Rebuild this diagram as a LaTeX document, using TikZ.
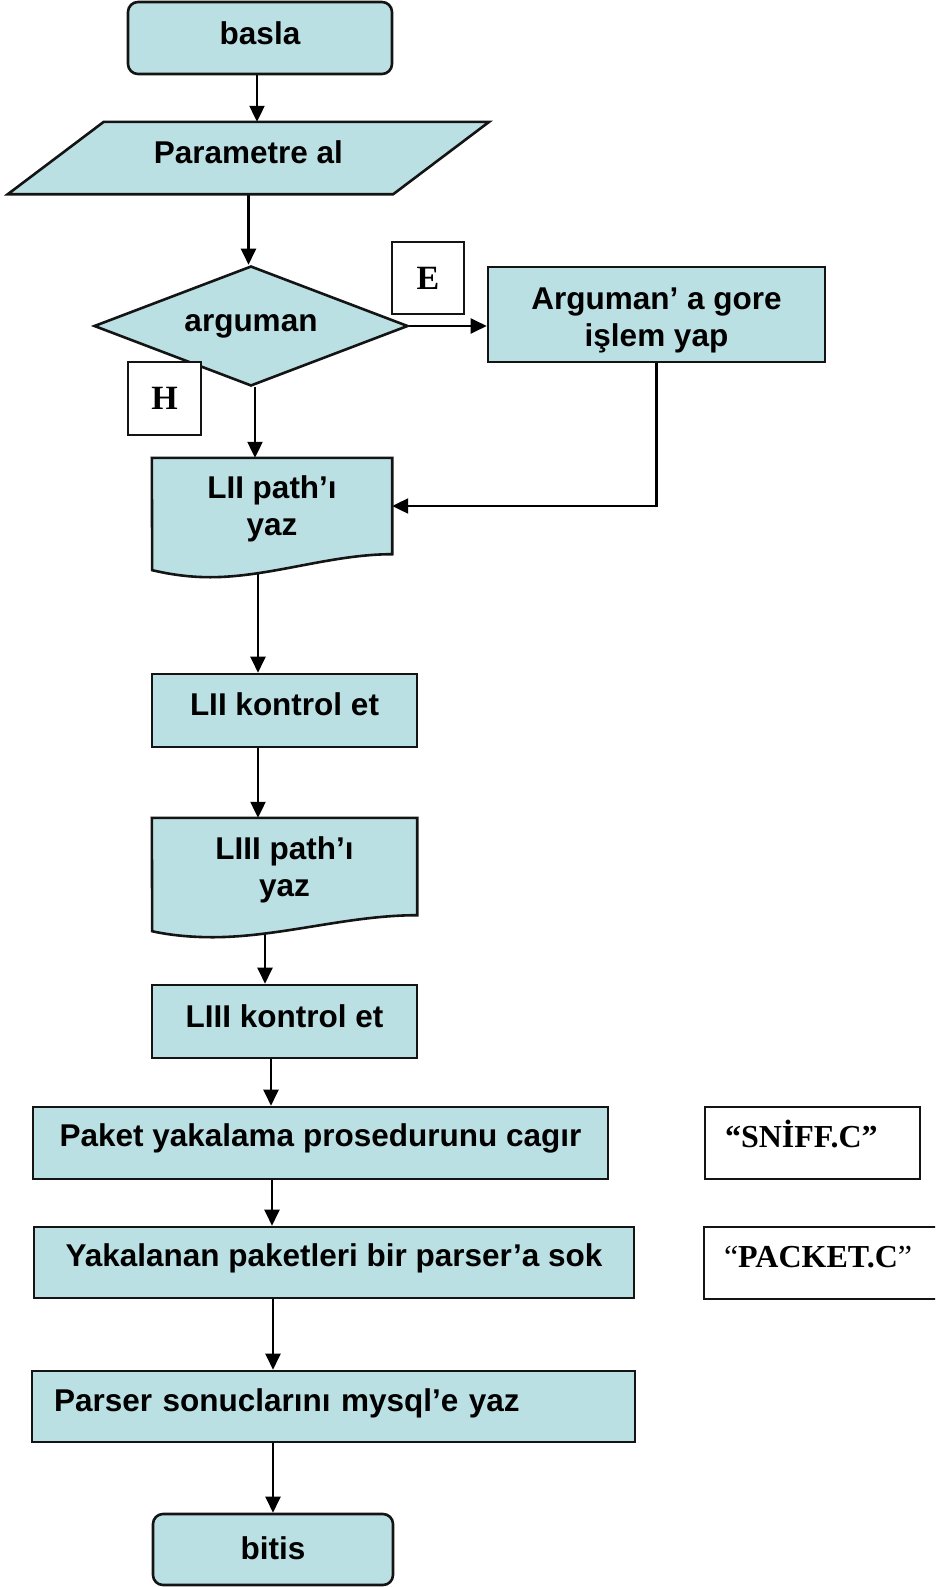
\documentclass[tikz,border=0pt]{standalone}
\usepackage{fontspec}
\setmainfont{Liberation Sans}
\newfontfamily\timesfont{Liberation Serif}
\usetikzlibrary{arrows.meta,shapes.geometric}

\pgfdeclarelayer{edges}
\pgfdeclarelayer{shapes}
\pgfsetlayers{edges,shapes,main}

\definecolor{boxfill}{RGB}{187,224,227}
\definecolor{boxline}{RGB}{20,20,20}

\begin{document}
\begin{tikzpicture}[x=1pt,y=-1pt,
  every node/.style={inner sep=0pt, align=center,
    font=\fontsize{31.5}{37}\selectfont\bfseries},
  % baseline placement of one-line texts: height 23pt, depth chosen per node
  tb/.style={text height=23pt, text depth=#1},
  % two-line texts: height measured above the last baseline
  tbb/.style={text height=#1, text depth=6.6pt},
  proc/.style={rectangle, draw=boxline, line width=2.6pt, fill=boxfill},
  term/.style={proc, rounded corners=10pt},
  decision/.style={diamond, aspect=2.617, draw=boxline, line width=2.6pt, fill=boxfill},
  docnode/.style={rectangle},
  outline/.style={draw=boxline, line width=2.6pt, fill=boxfill, line join=miter},
  tag/.style={rectangle, draw=boxline, line width=2.2pt, fill=white,
    font=\timesfont\fontsize{34}{40}\selectfont\bfseries},
  note/.style={rectangle, draw=boxline, line width=2.2pt, fill=white, align=left,
    inner xsep=20pt, text height=21pt, text depth=12pt,
    font=\timesfont\fontsize{32}{38}\selectfont},
  arr/.style={line width=2.2pt, draw=black, -{Triangle[length=16pt,width=15pt]}}]

\useasboundingbox (0,0) rectangle (935,1587);
\clip (0,0) rectangle (935,1587);

% start
\node[term, tb=9pt, minimum width=264pt, minimum height=72pt] (basla) at (260,38) {basla};

% input
\node[docnode, tb=13pt, minimum width=481pt, minimum height=72pt] (param) at (248.5,158) {Parametre al};

% decision and branch
\node[decision, minimum width=314pt, minimum height=120pt] (dia) at (251,326) {arguman};
\node[proc, tbb=70pt, minimum width=337pt, minimum height=95pt] (arg) at (656.5,314.5) {Arguman’ a gore\\işlem yap};
\node[tag, minimum width=72pt, minimum height=72pt] (e) at (428,278) {E};
\node[tag, minimum width=73pt, minimum height=73pt] (h) at (164.5,398.5) {H};

% LII
\node[docnode, tbb=66pt, minimum width=240pt, minimum height=96pt] (l2) at (272,506) {LII path’ı\\yaz};
\node[proc, tb=14pt, minimum width=265pt, minimum height=73pt] (l2k) at (284.5,710.5) {LII kontrol et};

% LIII
\node[docnode, tbb=67pt, minimum width=265pt, minimum height=97pt] (l3) at (284.5,866.5) {LIII path’ı\\yaz};
\node[proc, tb=12pt, minimum width=265pt, minimum height=73pt] (l3k) at (284.5,1021.5) {LIII kontrol et};

% capture and parse
\node[proc, tb=15.6pt, minimum width=575pt, minimum height=72pt] (paket) at (320.5,1143) {Paket yakalama prosedurunu cagır};
\node[note, text width=175pt, minimum height=72pt] (sniff) at (812.5,1143) {\bfseries “SNİFF.C”};
\node[proc, tb=16pt, minimum width=600pt, minimum height=71pt] (yak) at (334,1262.5) {Yakalanan paketleri bir parser’a sok};
\node[note, text width=201pt, minimum height=72pt] (packet) at (824.5,1263) {“{\bfseries PACKET.C}”};
\node[proc, tb=12.6pt, align=left, text width=559pt, inner xsep=22pt, minimum height=71pt] (parser) at (333.5,1406.5) {Parser sonuclarını mysql’e yaz};

% end
\node[term, tb=4pt, minimum width=240pt, minimum height=71pt] (bitis) at (273,1549.5) {bitis};

% outlines of the parallelogram and the document shapes
\begin{pgfonlayer}{shapes}
  \draw[outline] ([xshift=96pt]param.north west) -- (param.north east)
    -- ([xshift=-96pt]param.south east) -- (param.south west) -- cycle;
  \draw[outline] (l2.south east) .. controls +(-62,0) and +(60,0) .. ++(-182,23)
    .. controls +(-25,0) and +(13,3) .. ++(-58,-7)
    -- (l2.north west) -- (l2.north east) -- cycle;
  \draw[outline] (l3.south east) .. controls +(-70,0) and +(68,0) .. ++(-205,22)
    .. controls +(-26,0) and +(13,3) .. ++(-60,-6)
    -- (l3.north west) -- (l3.north east) -- cycle;
\end{pgfonlayer}

% connectors
\begin{pgfonlayer}{edges}
  \draw[arr] ([xshift=-3pt]basla.south) -- ([xshift=-3pt]basla.south |- param.north);
  \draw[arr] (param.south) -- (param.south |- dia.north);
  \draw[arr] ([xshift=-14pt]dia.east) -- (dia.east -| arg.west);
  \draw[arr] ([xshift=4pt]dia.south) -- ([xshift=4pt]dia.south |- l2.north);
  \draw[arr] (arg.south) |- (l2.east);
  \draw[arr] ([xshift=-14pt]l2.south) -- ([xshift=-14pt]l2.south |- l2k.north);
  \draw[arr] ([xshift=-26.5pt]l2k.south) -- ([xshift=-26.5pt]l2k.south |- l3.north);
  \draw[arr] ([xshift=-19.5pt]l3.south) -- ([xshift=-19.5pt]l3.south |- l3k.north);
  \draw[arr] ([xshift=-13.5pt]l3k.south) -- ([xshift=-13.5pt]l3k.south |- paket.north);
  \draw[arr] ([xshift=-48.5pt]paket.south) -- ([xshift=-48.5pt]paket.south |- yak.north);
  \draw[arr] ([xshift=-61pt]yak.south) -- ([xshift=-61pt]yak.south |- parser.north);
  \draw[arr] (bitis.north |- parser.south) -- (bitis.north);
\end{pgfonlayer}
\end{tikzpicture}
\end{document}
